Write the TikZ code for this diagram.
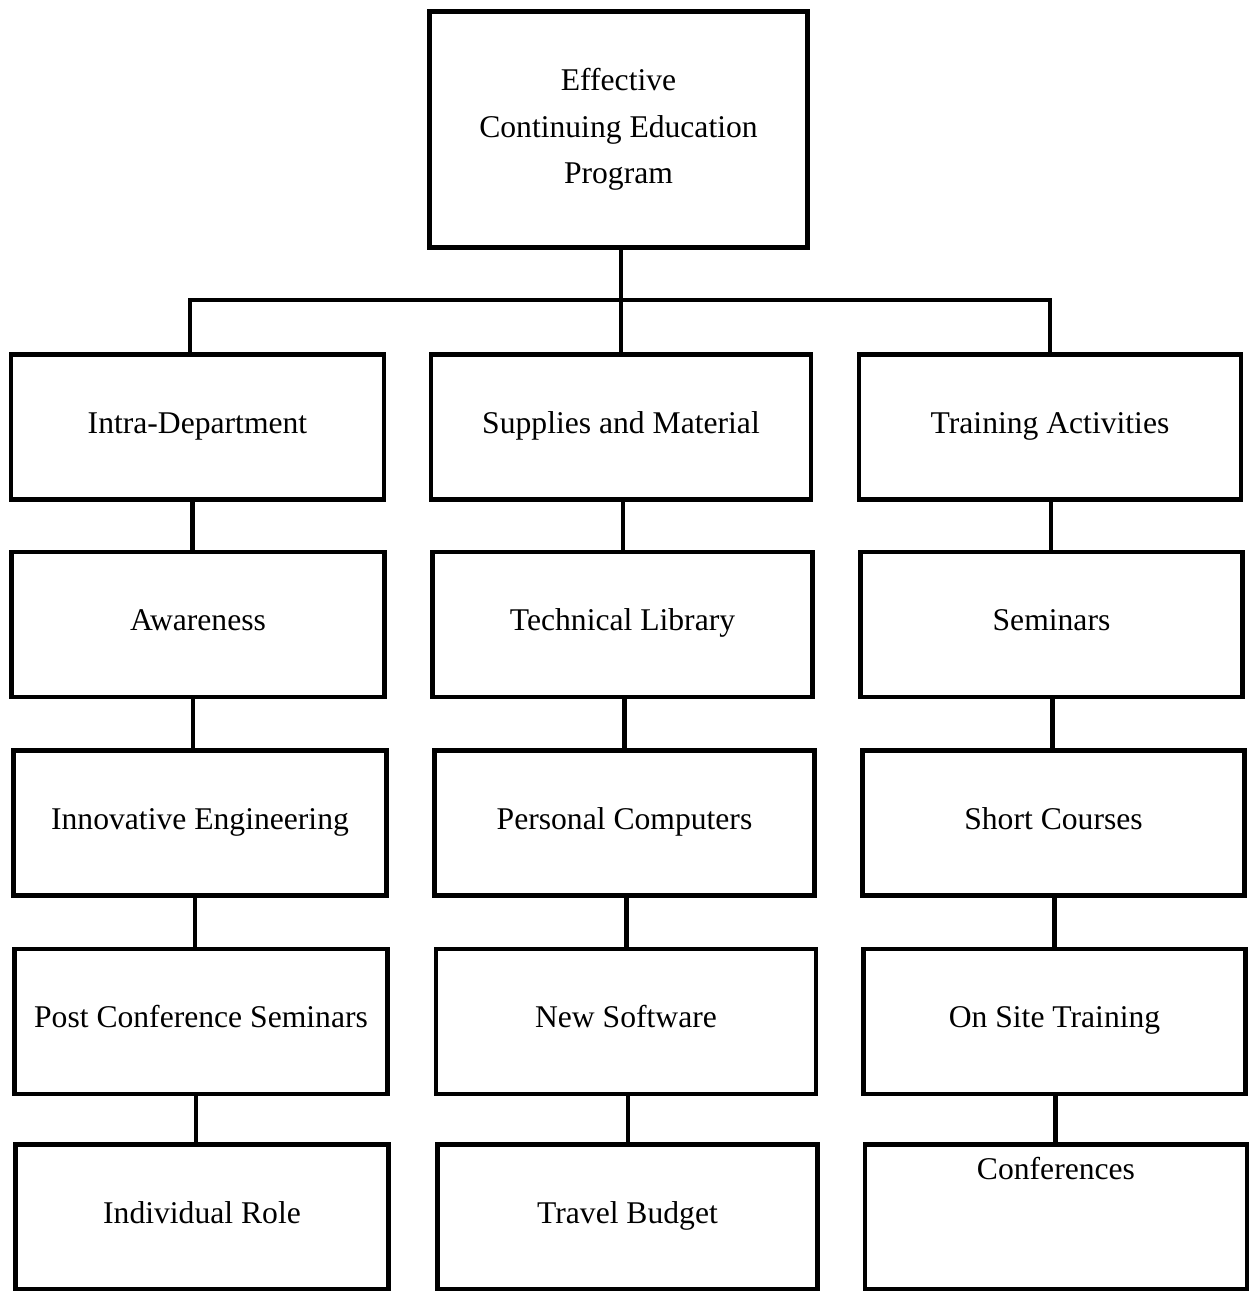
\documentclass[tikz,border=0pt]{standalone}
\usepackage{fontspec}
\setmainfont{Liberation Serif}
\usetikzlibrary{positioning}
\tikzset{
 unit/.style={draw, line width=2.6pt, minimum height=2.9cm, inner sep=2pt, align=center, font=\fontsize{18}{26.5}\selectfont},
 oneline/.style={text height=0.85em, text depth=0.15em},
 link/.style={line width=2.6pt},
}
\begin{document}
\begin{tikzpicture}[x=0.02cm, y=-0.02cm]
\useasboundingbox (0,0) rectangle (1249,1291);
\node[unit, minimum width=7.56cm, minimum height=4.72cm] (top) at (618.5,129.5) {Effective\\Continuing Education\\Program};
% left column
\foreach \n/\x/\y/\t in {1/197.5/427/Intra-Department, 2/198/624.5/Awareness, 3/200/823/Innovative Engineering, 4/201/1021.5/Post Conference Seminars, 5/202/1217/Individual Role}
 \node[unit, oneline, minimum width=7.46cm] (l\n) at (\x,\y) {\t};
% middle column
\foreach \n/\x/\y/\t in {1/621/427/Supplies and Material, 2/622.5/624.5/Technical Library, 3/624.5/823/Personal Computers, 4/626/1021.5/New Software, 5/627.5/1217/Travel Budget}
 \node[unit, oneline, minimum width=7.6cm] (m\n) at (\x,\y) {\t};
% right column
\foreach \n/\x/\y/\t in {1/1050/427/Training Activities, 2/1051.5/624.5/Seminars, 3/1053.5/823/Short Courses, 4/1054.5/1021.5/On Site Training}
 \node[unit, oneline, minimum width=7.64cm] (r\n) at (\x,\y) {\t};
\node[unit, minimum width=7.64cm] (r5) at (1056,1217) {};
\node[below=0.18cm of r5.north, font=\fontsize{18}{26.5}\selectfont] (r5t) {Conferences};
% connectors
\coordinate (bar) at (621,300);
\draw[link] (top.south -| bar) -- (bar |- m1.north);
\draw[link] ([xshift=-0.15cm]l1.north) |- (bar) -| (r1.north);
\foreach \c/\s in {l/-0.1,m/0.04,r/0.02}
 \foreach \a/\b in {1/2,2/3,3/4,4/5}
  \draw[link] ([xshift=\s cm]\c\a.south) -- ([xshift=\s cm]\c\a.south |- \c\b.north);
\end{tikzpicture}
\end{document}
